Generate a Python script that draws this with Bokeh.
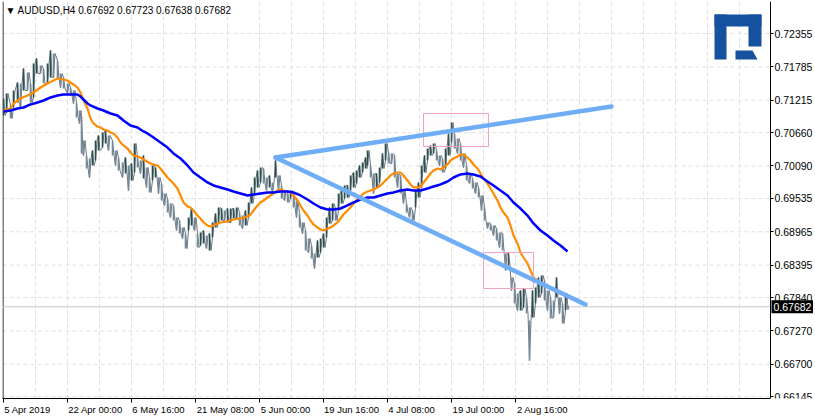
from bokeh.plotting import figure
from bokeh.models import FixedTicker, PrintfTickFormatter, Label, ColumnDataSource, LinearAxis
from bokeh.embed import file_html
from bokeh.resources import INLINE

TITLE = "\u25bc AUDUSD,H4  0.67692 0.67723 0.67638 0.67682"
LAST_PRICE = 0.67682

X_TICKS = [0, 64, 128, 192, 256, 320, 384, 448, 512]
X_LABELS = ["5 Apr 2019", "22 Apr 00:00", "6 May 16:00", "21 May 08:00", "5 Jun 00:00",
            "19 Jun 16:00", "4 Jul 08:00", "19 Jul 00:00", "2 Aug 16:00"]
Y_TICKS = [0.72355, 0.71785, 0.71215, 0.70660, 0.70090, 0.69535, 0.68965,
           0.68395, 0.67840, 0.67270, 0.66700, 0.66145]

BAR_IDX = [0, 3, 7, 10, 14, 17, 20, 24, 27, 30, 33, 37, 40, 44, 47, 50, 54, 57, 60, 64,
           67, 70, 73, 76, 78, 80, 83, 86, 89, 92, 95, 99, 102, 105, 109, 112, 115, 119, 122, 125,
           128, 131, 134, 137, 140, 143, 146, 149, 152, 155, 158, 161, 164, 167, 170, 173, 176, 179, 182, 185,
           188, 191, 194, 197, 200, 203, 206, 209, 212, 215, 218, 221, 224, 227, 230, 233, 236, 239, 242, 245,
           248, 251, 254, 257, 260, 263, 266, 269, 272, 275, 278, 281, 284, 287, 290, 293, 296, 299, 302, 305,
           308, 311, 314, 317, 320, 323, 326, 329, 332, 335, 338, 341, 344, 347, 350, 353, 356, 359, 362, 364,
           367, 370, 373, 376, 379, 382, 385, 388, 391, 394, 397, 400, 403, 406, 409, 412, 415, 418, 421, 424,
           427, 430, 433, 436, 439, 442, 445, 448, 451, 454, 457, 460, 463, 466, 469, 472, 475, 478, 481, 484,
           487, 490, 493, 496, 499, 502, 505, 508, 511, 514, 517, 520, 523, 526, 529, 532, 535, 538, 541, 544,
           547, 550, 553, 556, 559, 562, 564]
BAR_HIGH = [0.71244, 0.71330, 0.71125, 0.71381, 0.71518, 0.71501, 0.71757, 0.71689, 0.71501, 0.71843,
            0.71928, 0.71808, 0.71757, 0.71843, 0.72065, 0.72014, 0.71894, 0.71672, 0.71603, 0.71501,
            0.71432, 0.71381, 0.71176, 0.71039, 0.70954, 0.70526, 0.70270, 0.70218, 0.70355, 0.70526,
            0.70612, 0.70663, 0.70697, 0.70612, 0.70526, 0.70355, 0.70235, 0.70150, 0.70235, 0.70099,
            0.70133, 0.70475, 0.70235, 0.70184, 0.70270, 0.70064, 0.69893, 0.70099, 0.70064, 0.69893,
            0.69791, 0.69620, 0.69534, 0.69449, 0.69415, 0.69209, 0.69158, 0.69038, 0.68936, 0.69209,
            0.69363, 0.69209, 0.68936, 0.68953, 0.68987, 0.68902, 0.68936, 0.69124, 0.69277, 0.69380,
            0.69363, 0.69329, 0.69363, 0.69363, 0.69363, 0.69380, 0.69295, 0.69243, 0.69329, 0.69466,
            0.69723, 0.69893, 0.70013, 0.70064, 0.70047, 0.69893, 0.69928, 0.69808, 0.70184, 0.69928,
            0.69757, 0.69671, 0.69671, 0.69671, 0.69637, 0.69500, 0.69277, 0.69124, 0.68987, 0.68850,
            0.68731, 0.68594, 0.68816, 0.68850, 0.68936, 0.69209, 0.69380, 0.69449, 0.69363, 0.69620,
            0.69671, 0.69757, 0.69757, 0.69928, 0.69979, 0.70013, 0.70099, 0.70150, 0.70235, 0.70355,
            0.70099, 0.69962, 0.69962, 0.70064, 0.70304, 0.70475, 0.70321, 0.70304, 0.70270, 0.69962,
            0.69928, 0.69671, 0.69449, 0.69380, 0.69329, 0.69671, 0.69808, 0.70099, 0.70270, 0.70389,
            0.70441, 0.70475, 0.70355, 0.70270, 0.70218, 0.70389, 0.70646, 0.70834, 0.70646, 0.70560,
            0.70475, 0.70304, 0.70099, 0.69962, 0.69876, 0.69808, 0.69723, 0.69586, 0.69380, 0.69124,
            0.69107, 0.69073, 0.69021, 0.68953, 0.68936, 0.68594, 0.68594, 0.68183, 0.68081, 0.67910,
            0.67961, 0.67995, 0.67841, 0.67448, 0.67961, 0.68012, 0.68183, 0.68218, 0.68132, 0.67961,
            0.67841, 0.67790, 0.68183, 0.67841, 0.67739, 0.67910, 0.67723]
BAR_LOW = [0.70954, 0.71005, 0.70902, 0.71090, 0.71176, 0.71090, 0.71381, 0.71381, 0.71176, 0.71261,
           0.71672, 0.71672, 0.71501, 0.71501, 0.71603, 0.71603, 0.71586, 0.71432, 0.71415, 0.71330,
           0.71296, 0.71159, 0.70919, 0.70817, 0.70304, 0.70270, 0.70047, 0.69893, 0.70099, 0.70184,
           0.70355, 0.70406, 0.70475, 0.70355, 0.70270, 0.70099, 0.70013, 0.69893, 0.69962, 0.69671,
           0.69842, 0.69979, 0.70064, 0.69962, 0.69876, 0.69723, 0.69637, 0.69842, 0.69893, 0.69620,
           0.69500, 0.69415, 0.69295, 0.69209, 0.69158, 0.68987, 0.68936, 0.68850, 0.68679, 0.68987,
           0.69073, 0.68987, 0.68696, 0.68731, 0.68765, 0.68679, 0.68645, 0.68867, 0.69038, 0.69124,
           0.69158, 0.69158, 0.69124, 0.69124, 0.69192, 0.69192, 0.69073, 0.69021, 0.69073, 0.69209,
           0.69449, 0.69620, 0.69723, 0.69808, 0.69791, 0.69671, 0.69723, 0.69637, 0.69893, 0.69671,
           0.69534, 0.69500, 0.69466, 0.69534, 0.69380, 0.69209, 0.69038, 0.68936, 0.68645, 0.68611,
           0.68508, 0.68337, 0.68525, 0.68611, 0.68696, 0.68867, 0.69107, 0.69158, 0.69158, 0.69329,
           0.69449, 0.69534, 0.69551, 0.69671, 0.69723, 0.69791, 0.69893, 0.69979, 0.70047, 0.70099,
           0.69893, 0.69620, 0.69723, 0.69808, 0.70047, 0.70184, 0.70133, 0.70133, 0.69893, 0.69723,
           0.69620, 0.69449, 0.69295, 0.69209, 0.69158, 0.69380, 0.69551, 0.69723, 0.69979, 0.70184,
           0.70270, 0.70304, 0.70184, 0.70099, 0.69979, 0.70047, 0.70270, 0.70492, 0.70389, 0.70304,
           0.70184, 0.70064, 0.69842, 0.69791, 0.69706, 0.69620, 0.69551, 0.69329, 0.69158, 0.69021,
           0.68987, 0.68902, 0.68816, 0.68696, 0.68645, 0.68303, 0.68389, 0.67961, 0.67739, 0.67619,
           0.67619, 0.67670, 0.67567, 0.66764, 0.67499, 0.67739, 0.67841, 0.67910, 0.67790, 0.67619,
           0.67482, 0.67499, 0.67841, 0.67567, 0.67397, 0.67619, 0.67638]

FAST_IDX = [0, 7, 10, 17, 24, 30, 37, 44, 50, 54, 60, 64, 67, 70, 74, 77, 80, 84, 87, 90,
            94, 97, 100, 104, 107, 110, 114, 117, 120, 124, 127, 130, 134, 137, 140, 147, 154, 157, 160, 164,
            167, 170, 174, 177, 180, 184, 187, 190, 194, 197, 200, 204, 207, 210, 214, 217, 224, 230, 237, 244,
            247, 250, 254, 257, 260, 264, 267, 270, 274, 277, 280, 284, 287, 290, 294, 297, 300, 304, 307, 310,
            314, 317, 320, 324, 327, 330, 334, 337, 340, 344, 347, 350, 354, 357, 360, 364, 367, 370, 374, 377,
            380, 384, 387, 390, 394, 397, 400, 404, 407, 410, 414, 417, 420, 424, 427, 430, 434, 437, 440, 444,
            447, 450, 454, 457, 460, 464, 467, 470, 474, 477, 480, 484, 487, 490, 494, 497, 500, 504, 507, 510,
            514, 517, 520, 524, 527, 530, 534, 537, 540, 544, 547, 552, 557, 563]
FAST_MA = [0.71039, 0.71073, 0.71159, 0.71244, 0.71296, 0.71347, 0.71432, 0.71501, 0.71552, 0.71586,
           0.71569, 0.71552, 0.71518, 0.71484, 0.71432, 0.71347, 0.71210, 0.71073, 0.70902, 0.70817,
           0.70765, 0.70748, 0.70714, 0.70697, 0.70663, 0.70646, 0.70577, 0.70492, 0.70441, 0.70389,
           0.70321, 0.70270, 0.70252, 0.70235, 0.70201, 0.70133, 0.70099, 0.70047, 0.69979, 0.69893,
           0.69842, 0.69791, 0.69706, 0.69586, 0.69466, 0.69397, 0.69380, 0.69329, 0.69243, 0.69192,
           0.69124, 0.69073, 0.69056, 0.69073, 0.69107, 0.69124, 0.69141, 0.69175, 0.69192, 0.69226,
           0.69260, 0.69329, 0.69415, 0.69466, 0.69500, 0.69551, 0.69586, 0.69620, 0.69671, 0.69689,
           0.69671, 0.69654, 0.69637, 0.69586, 0.69500, 0.69415, 0.69329, 0.69243, 0.69158, 0.69090,
           0.69038, 0.69004, 0.68987, 0.69021, 0.69038, 0.69073, 0.69124, 0.69192, 0.69260, 0.69329,
           0.69380, 0.69449, 0.69517, 0.69569, 0.69620, 0.69654, 0.69671, 0.69689, 0.69723, 0.69757,
           0.69808, 0.69876, 0.69928, 0.69962, 0.69979, 0.69979, 0.69928, 0.69842, 0.69774, 0.69723,
           0.69723, 0.69740, 0.69808, 0.69893, 0.69962, 0.70013, 0.70047, 0.70030, 0.70064, 0.70116,
           0.70184, 0.70218, 0.70252, 0.70287, 0.70287, 0.70235, 0.70184, 0.70116, 0.70047, 0.69962,
           0.69876, 0.69791, 0.69706, 0.69620, 0.69500, 0.69380, 0.69295, 0.69209, 0.69073, 0.68902,
           0.68765, 0.68611, 0.68525, 0.68423, 0.68303, 0.68183, 0.68132, 0.68098, 0.68081, 0.68029,
           0.67995, 0.67944, 0.67910, 0.67858]

SLOW_IDX = [0, 7, 14, 20, 27, 34, 40, 47, 54, 60, 67, 74, 77, 80, 84, 87, 94, 100, 107, 114,
            120, 127, 134, 140, 144, 150, 157, 164, 170, 177, 184, 190, 197, 204, 210, 217, 224, 230, 237, 244,
            250, 257, 264, 270, 277, 284, 290, 297, 304, 310, 317, 324, 330, 337, 344, 350, 357, 364, 370, 377,
            384, 390, 397, 404, 410, 417, 424, 430, 437, 444, 450, 457, 464, 470, 477, 484, 490, 497, 504, 510,
            517, 524, 530, 537, 544, 550, 557, 564]
SLOW_MA = [0.71022, 0.71039, 0.71073, 0.71090, 0.71142, 0.71176, 0.71210, 0.71261, 0.71296, 0.71313,
           0.71313, 0.71313, 0.71278, 0.71227, 0.71159, 0.71125, 0.71073, 0.71039, 0.70988, 0.70954,
           0.70868, 0.70783, 0.70748, 0.70680, 0.70646, 0.70577, 0.70492, 0.70406, 0.70304, 0.70218,
           0.70099, 0.69979, 0.69893, 0.69808, 0.69757, 0.69723, 0.69689, 0.69654, 0.69620, 0.69586,
           0.69603, 0.69620, 0.69637, 0.69637, 0.69654, 0.69654, 0.69637, 0.69586, 0.69517, 0.69449,
           0.69380, 0.69346, 0.69346, 0.69363, 0.69415, 0.69466, 0.69517, 0.69551, 0.69551, 0.69586,
           0.69620, 0.69637, 0.69671, 0.69689, 0.69671, 0.69671, 0.69706, 0.69740, 0.69774, 0.69825,
           0.69893, 0.69945, 0.69962, 0.69945, 0.69910, 0.69825, 0.69757, 0.69671, 0.69586, 0.69466,
           0.69363, 0.69243, 0.69107, 0.68987, 0.68902, 0.68816, 0.68731, 0.68628]

TREND_UPPER_IDX = [272, 608]
TREND_UPPER_PRICE = [0.70235, 0.71107]
TREND_LOWER_IDX = [272, 582]
TREND_LOWER_PRICE = [0.70235, 0.67722]

ZONE_LEFT = [420, 480]
ZONE_RIGHT = [485, 530]
ZONE_TOP = [0.70988, 0.68611]
ZONE_BOTTOM = [0.70423, 0.67995]

# chart area spans bars X_START..CHART_END; the price scale sits at CHART_END
X_START, CHART_END, X_END = -1, 767, 810
Y_START, Y_END = 0.66114, 0.72903
FRAME_H = 397

LABEL_FONT = "Liberation Sans"
X_LABEL_PX = 9.5
Y_LABEL_PX = 10.5
# Liberation Sans advance widths (per 1000 em) for the characters of the x labels
CHAR_W = {" ": 278, ":": 278, ".": 278, "A": 667, "M": 833, "J": 500, "p": 556, "r": 333, "a": 556,
          "y": 500, "u": 556, "n": 556, "l": 222, "g": 556}


def text_width(s, px):
    return sum(CHAR_W.get(ch, 556) for ch in s) * px / 1000.0


p = figure(frame_width=811, frame_height=FRAME_H, x_range=(X_START, X_END), y_range=(Y_START, Y_END),
           y_axis_location="right", output_backend="svg", toolbar_location=None,
           min_border_left=2, min_border_top=1, min_border_right=0, min_border_bottom=0,
           background_fill_color="white", border_fill_color="white")
p.outline_line_color = None

# grids (horizontal ones only across the chart area)
p.xgrid.ticker = FixedTicker(ticks=list(range(32, CHART_END, 32)))
p.xgrid.grid_line_color = "#E0E0E0"
p.xgrid.grid_line_dash = "4 3"
p.ygrid.visible = False
p.segment(x0=[X_START] * len(Y_TICKS), x1=[CHART_END] * len(Y_TICKS), y0=Y_TICKS, y1=Y_TICKS,
          line_color="#E0E0E0", line_dash="4 3", line_width=1)

# left border of the chart area
p.segment(x0=[X_START + 0.5], x1=[X_START + 0.5], y0=[Y_START], y1=[Y_END], line_color="black", line_width=1)

# x axis: line and tick marks only
xa = p.xaxis[0]
xa.bounds = (X_START, CHART_END)
xa.ticker = FixedTicker(ticks=X_TICKS)
xa.major_label_overrides = {t: "" for t in X_TICKS}
xa.major_label_text_font_size = "0px"
xa.major_tick_out = 4
xa.major_tick_in = 0
xa.minor_tick_out = 0
xa.minor_tick_in = 0
xa.major_label_standoff = 0
xa.axis_line_color = "black"
xa.major_tick_line_color = "black"

# x labels, left-aligned at their ticks (Bokeh centres labels, so centre them half a width right)
label_pos = [t + 1 + int(round(text_width(l, X_LABEL_PX) / 2)) for t, l in zip(X_TICKS, X_LABELS)]
xl = LinearAxis(ticker=FixedTicker(ticks=label_pos),
                major_label_overrides={pos: l for pos, l in zip(label_pos, X_LABELS)},
                major_tick_out=0, major_tick_in=0, minor_tick_out=0, minor_tick_in=0,
                axis_line_color=None, major_tick_line_color=None, major_label_standoff=1,
                major_label_text_font=LABEL_FONT, major_label_text_font_size=f"{X_LABEL_PX}px",
                major_label_text_color="black")
p.add_layout(xl, "below")

# price scale, fixed at the right edge of the chart area
ya = p.yaxis[0]
ya.fixed_location = CHART_END
ya.ticker = FixedTicker(ticks=Y_TICKS)
ya.formatter = PrintfTickFormatter(format="%.5f")
ya.major_tick_out = 3
ya.major_tick_in = 0
ya.minor_tick_out = 0
ya.minor_tick_in = 0
ya.major_label_standoff = 1
ya.axis_line_color = "black"
ya.major_tick_line_color = "black"
ya.major_label_text_font = LABEL_FONT
ya.major_label_text_font_size = f"{Y_LABEL_PX}px"
ya.major_label_text_color = "black"

# current price line
p.segment(x0=[X_START], x1=[CHART_END], y0=[LAST_PRICE], y1=[LAST_PRICE], line_color="#C8C8C8", line_width=1)

# price bars
mids = [(h + l) / 2 for h, l in zip(BAR_HIGH, BAR_LOW)]
colors = ["#2F4F4F"] + ["#2F4F4F" if mids[i] >= mids[i - 1] else "#778899" for i in range(1, len(mids))]
src = ColumnDataSource(dict(x=BAR_IDX, hi=BAR_HIGH, lo=BAR_LOW, c=colors))
zx, zy = [], []
for i, (x, h, l) in enumerate(zip(BAR_IDX, BAR_HIGH, BAR_LOW)):
    zx += [x, x + 1.5]
    zy += [h, l] if i % 2 == 0 else [l, h]
p.line(zx, zy, line_color="#667880", line_width=1)
p.segment(x0="x", y0="lo", x1="x", y1="hi", source=src, line_color="c", line_width=1.6)

# moving averages
p.line(FAST_IDX, FAST_MA, line_color="#FF8C00", line_width=2.2)
p.line(SLOW_IDX, SLOW_MA, line_color="#0000FF", line_width=2.5)

# zones
p.quad(left=ZONE_LEFT, right=ZONE_RIGHT, top=ZONE_TOP, bottom=ZONE_BOTTOM,
       fill_color="#F7C6D6", fill_alpha=0.06, line_color="#F2A2BE", line_width=1)

# trend lines
p.line(TREND_UPPER_IDX, TREND_UPPER_PRICE, line_color="#6FAEF6", line_width=4.5, line_cap="round")
p.line(TREND_LOWER_IDX, TREND_LOWER_PRICE, line_color="#6FAEF6", line_width=4.5, line_cap="round")

# logo (decorative)
logo_blue = "#16519F"
p.quad(left=[711, 711, 745], right=[723, 758, 758], top=[0.72681, 0.72681, 0.72681],
       bottom=[0.71911, 0.72475, 0.72133], fill_color=logo_blue, line_color=None)
p.patch([732, 749, 754, 732], [0.72065, 0.72065, 0.71911, 0.71911], fill_color=logo_blue, line_color=None)

# title
p.add_layout(Label(x=X_START, y=Y_END, x_offset=3, y_offset=-3, text=TITLE, text_baseline="top",
                   text_font=LABEL_FONT, text_font_size="10px", text_color="black"))

# last price tag on the price scale: black box sized to the text, white text on top
price_per_px = (Y_END - Y_START) / FRAME_H
tag_text = f"{LAST_PRICE:.5f}"
tag_w = text_width(tag_text, Y_LABEL_PX) + 4
p.quad(left=[CHART_END + 1], right=[CHART_END + 1 + tag_w],
       top=[LAST_PRICE + 6.5 * price_per_px], bottom=[LAST_PRICE - 6.5 * price_per_px],
       fill_color="black", line_color=None)
p.add_layout(Label(x=CHART_END, y=LAST_PRICE, x_offset=3, text=tag_text, text_baseline="middle",
                   text_font=LABEL_FONT, text_font_size=f"{Y_LABEL_PX}px", text_color="white"))

open("out.html", "w").write(file_html(p, INLINE))
